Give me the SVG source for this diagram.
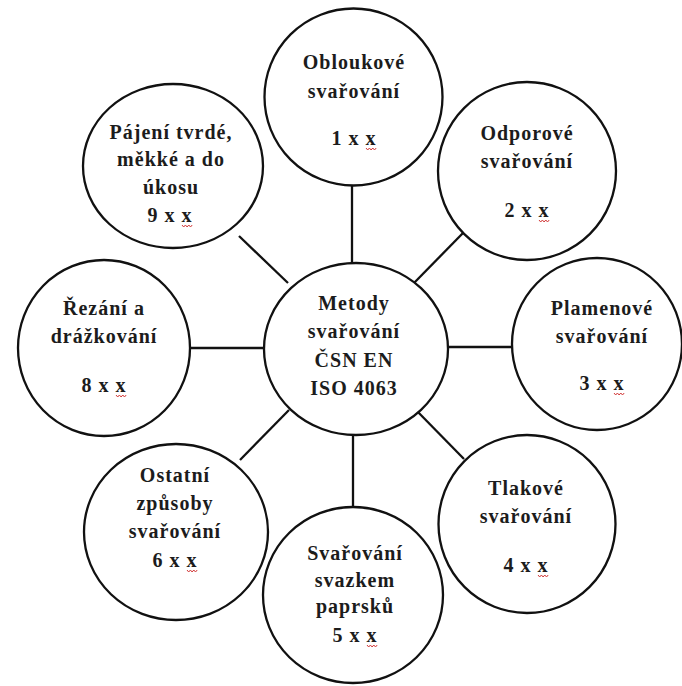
<svg xmlns="http://www.w3.org/2000/svg" xmlns:xlink="http://www.w3.org/1999/xlink" width="682" height="686" viewBox="0 0 682 686">
<style>
.node{fill:#ffffff;stroke:#111111;stroke-width:2.3}
.conn line{stroke:#111111;stroke-width:2.3}
text{font-family:"Liberation Serif","Times New Roman",serif;font-weight:bold;font-size:20px;letter-spacing:1px;fill:#1c1c1c;text-anchor:middle}
.sq{fill:none;stroke:#d23a3a;stroke-width:1}
</style>
<defs>
<path id="squig" class="sq" d="M-5,3 l1.7,2 l1.7,-2 l1.7,2 l1.7,-2 l1.7,2 l1.7,-2"/>
</defs>
<rect width="682" height="686" fill="#ffffff"/>
<g id="connectors" class="conn">
<line x1="352" y1="185" x2="352" y2="264"/>
<line x1="463" y1="233" x2="414" y2="283"/>
<line x1="447" y1="347" x2="513" y2="347"/>
<line x1="415" y1="409" x2="464" y2="459"/>
<line x1="353" y1="434" x2="353" y2="508"/>
<line x1="289" y1="410" x2="240" y2="460"/>
<line x1="189" y1="348" x2="264" y2="348"/>
<line x1="239" y1="236" x2="288" y2="283"/>
</g>
<g id="n-center">
<ellipse class="node" cx="356" cy="349" rx="92" ry="86"/>
<text x="354" y="310">Metody</text>
<text x="354" y="338">svařování</text>
<text x="354" y="367">ČSN EN</text>
<text x="354" y="395">ISO 4063</text>
</g>
<g id="n-1">
<ellipse class="node" cx="353.5" cy="97" rx="89" ry="88.5"/>
<text x="354" y="69">Obloukové</text>
<text x="354" y="98">svařování</text>
<text x="354" y="145">1 x x</text>
<use xlink:href="#squig" x="371" y="145"/>
</g>
<g id="n-2">
<ellipse class="node" cx="527" cy="171" rx="89" ry="89"/>
<text x="527" y="140">Odporové</text>
<text x="527" y="168">svařování</text>
<text x="527" y="217">2 x x</text>
<use xlink:href="#squig" x="544" y="217"/>
</g>
<g id="n-3">
<ellipse class="node" cx="597" cy="344" rx="85" ry="86"/>
<text x="602" y="315">Plamenové</text>
<text x="602" y="343">svařování</text>
<text x="602" y="390">3 x x</text>
<use xlink:href="#squig" x="619" y="390"/>
</g>
<g id="n-4">
<ellipse class="node" cx="527" cy="524" rx="88.5" ry="89"/>
<text x="526" y="495">Tlakové</text>
<text x="526" y="523">svařování</text>
<text x="526" y="572">4 x x</text>
<use xlink:href="#squig" x="543" y="572"/>
</g>
<g id="n-5">
<ellipse class="node" cx="353" cy="595" rx="90" ry="88"/>
<text x="355" y="560">Svařování</text>
<text x="355" y="587">svazkem</text>
<text x="355" y="613">paprsků</text>
<text x="355" y="642">5 x x</text>
<use xlink:href="#squig" x="372" y="642"/>
</g>
<g id="n-6">
<ellipse class="node" cx="176" cy="532" rx="92" ry="88"/>
<text x="175" y="482">Ostatní</text>
<text x="175" y="510">způsoby</text>
<text x="175" y="538">svařování</text>
<text x="175" y="567">6 x x</text>
<use xlink:href="#squig" x="192" y="567"/>
</g>
<g id="n-8">
<ellipse class="node" cx="104" cy="348" rx="86" ry="88"/>
<text x="104" y="315">Řezání a</text>
<text x="104" y="343">drážkování</text>
<text x="104" y="392">8 x x</text>
<use xlink:href="#squig" x="121" y="392"/>
</g>
<g id="n-9">
<ellipse class="node" cx="173" cy="166" rx="90" ry="82"/>
<text x="171" y="139">Pájení tvrdé,</text>
<text x="171" y="166">měkké a do</text>
<text x="171" y="194">úkosu</text>
<text x="170" y="222">9 x x</text>
<use xlink:href="#squig" x="187" y="222"/>
</g>
</svg>
